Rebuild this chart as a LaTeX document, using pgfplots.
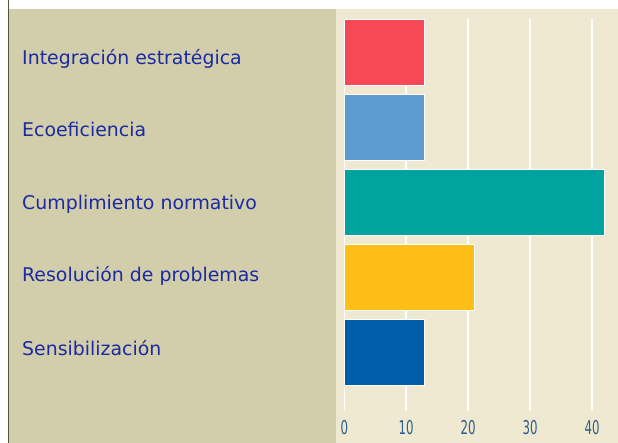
\documentclass[border=0pt]{standalone}
\usepackage{fontspec}
\usepackage{pgfplots}
\pgfplotsset{compat=1.18}
\setmainfont{DejaVu Sans}
\newfontfamily\labfont{DejaVu Sans}
\newfontfamily\tickfont[FakeStretch=0.62]{DejaVu Sans}
\definecolor{tanbg}{RGB}{210,206,171}
\definecolor{lightbg}{RGB}{238,233,208}
\definecolor{labblue}{RGB}{27,42,160}
\definecolor{tickblue}{RGB}{45,95,140}
\definecolor{cred}{RGB}{246,72,87}
\definecolor{cblue}{RGB}{94,155,208}
\definecolor{cteal}{RGB}{0,163,158}
\definecolor{cyellow}{RGB}{253,191,23}
\definecolor{cdark}{RGB}{0,94,168}
\definecolor{edgeline}{RGB}{85,85,62}
\begin{document}
\begin{tikzpicture}[x=1pt,y=1pt]
\useasboundingbox (0,0) rectangle (618,443);
\fill[white] (0,0) rectangle (618,443);
\fill[tanbg] (9,0) rectangle (336,434);
\fill[lightbg] (336,0) rectangle (618,434);
\draw[edgeline, line width=1.4pt] (8.6,0) -- (8.6,443);
\begin{axis}[
  at={(344.3pt,32pt)}, anchor=south west,
  scale only axis, width=247.7pt, height=392pt,
  xmin=0, xmax=40, ymin=0.2267, ymax=5.4533,
  enlargelimits=false, clip=false,
  axis line style={draw=none},
  xbar, bar width=66pt, bar shift=0pt,
  xtick={0,10,20,30,40},
  major tick length=0pt,
  /pgf/number format/assume math mode=true,
  xmajorgrids, grid style={white, line width=1.5pt},
  xticklabel style={font=\tickfont\fontsize{19}{19}\selectfont, text=tickblue, anchor=base, inner sep=0pt, yshift=-23.3pt},
  ytick={4.849,3.884,2.916,1.951,0.973},
  yticklabels={Integración estratégica,Ecoeficiencia,Cumplimiento normativo,Resolución de problemas,Sensibilización},
  yticklabel style={font=\labfont\fontsize{18.9}{18.9}\selectfont, text=labblue, anchor=base west, inner sep=0pt, xshift=-322.3pt},
]
\addplot[fill=cred, draw=white, line width=1pt] coordinates {(13,5)};
\addplot[fill=cblue, draw=white, line width=1pt] coordinates {(13,4)};
\addplot[fill=cteal, draw=white, line width=1pt] coordinates {(42,3)};
\addplot[fill=cyellow, draw=white, line width=1pt] coordinates {(21,2)};
\addplot[fill=cdark, draw=white, line width=1pt] coordinates {(13,1)};
\end{axis}
\end{tikzpicture}
\end{document}
